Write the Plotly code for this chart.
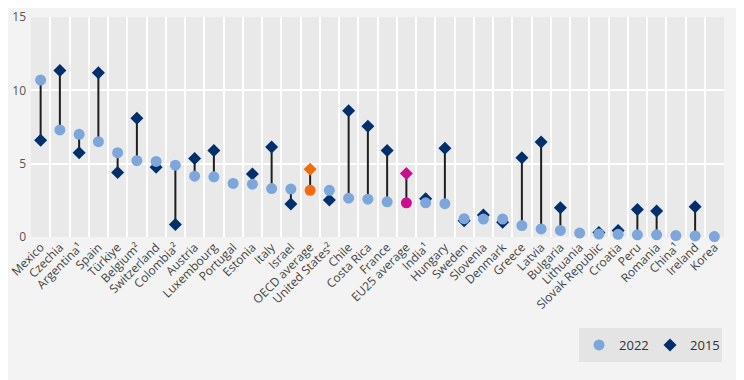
import plotly.graph_objects as go

countries = ["Mexico", "Czechia", "Argentina¹", "Spain", "Türkiye", "Belgium²", "Switzerland",
             "Colombia²", "Austria", "Luxembourg", "Portugal", "Estonia", "Italy", "Israel",
             "OECD average", "United States²", "Chile", "Costa Rica", "France", "EU25 average",
             "India¹", "Hungary", "Sweden", "Slovenia", "Denmark", "Greece", "Latvia", "Bulgaria",
             "Lithuania", "Slovak Republic", "Croatia", "Peru", "Romania", "China¹", "Ireland", "Korea"]

v2022 = [10.7, 7.3, 7.0, 6.5, 5.75, 5.2, 5.15, 4.9, 4.15, 4.1, 3.65, 3.6, 3.3, 3.27,
         3.18, 3.18, 2.65, 2.58, 2.4, 2.33, 2.33, 2.27, 1.25, 1.22, 1.22, 0.78, 0.55, 0.45,
         0.27, 0.2, 0.18, 0.15, 0.15, 0.1, 0.07, 0.03]

v2015 = [6.6, 11.35, 5.75, 11.2, 4.4, 8.1, 4.75, 0.85, 5.35, 5.9, None, 4.3, 6.13, 2.25,
         4.62, 2.53, 8.6, 7.55, 5.9, 4.33, 2.6, 6.05, 1.1, 1.5, 1.0, 5.4, 6.47, 2.0,
         None, 0.3, 0.45, 1.87, 1.78, None, 2.07, None]

highlight = {"OECD average": "#F26B0F", "EU25 average": "#CC0E8E"}

C22 = "#7DA6DA"
C15 = "#002F6C"

lx, ly = [], []
for c, a, b in zip(countries, v2022, v2015):
    if b is None:
        continue
    lx += [c, c, None]
    ly += [a, b, None]

fig = go.Figure()
fig.add_trace(go.Scatter(x=lx, y=ly, mode="lines", line=dict(color="#1e1e1e", width=2),
                         showlegend=False, hoverinfo="skip", cliponaxis=False))

x15 = [c for c, b in zip(countries, v2015) if b is not None and c not in highlight]
y15 = [b for c, b in zip(countries, v2015) if b is not None and c not in highlight]
x22 = [c for c in countries if c not in highlight]
y22 = [a for c, a in zip(countries, v2022) if c not in highlight]

fig.add_trace(go.Scatter(x=x15, y=y15, mode="markers", name="2015",
                         marker=dict(symbol="diamond", size=10, color=C15), cliponaxis=False))
fig.add_trace(go.Scatter(x=x22, y=y22, mode="markers", name="2022",
                         marker=dict(symbol="circle", size=11, color=C22), cliponaxis=False))

for c, col in highlight.items():
    i = countries.index(c)
    fig.add_trace(go.Scatter(x=[c], y=[v2015[i]], mode="markers", showlegend=False,
                             marker=dict(symbol="diamond", size=10, color=col), cliponaxis=False))
    fig.add_trace(go.Scatter(x=[c], y=[v2022[i]], mode="markers", showlegend=False,
                             marker=dict(symbol="circle", size=11, color=col), cliponaxis=False))

fig.update_layout(
    width=744, height=380,
    margin=dict(l=23, r=28, t=9, b=151, autoexpand=False),
    paper_bgcolor="#f3f3f3",
    plot_bgcolor="#e9e9e9",
    font=dict(family="Open Sans", color="#444444", size=11),
    legend=dict(orientation="h", x=0.7908, xanchor="left", y=-0.4909, yanchor="middle",
                bgcolor="rgba(0,0,0,0)", font=dict(size=13, color="#333333"),
                traceorder="reversed", entrywidth=26, entrywidthmode="pixels"),
    shapes=[dict(type="rect", xref="paper", yref="paper", x0=0.7908, x1=0.9971,
                 y0=-0.5682, y1=-0.4136, fillcolor="#e4e4e4", line=dict(width=0), layer="below")],
    xaxis=dict(type="category", categoryorder="array", categoryarray=countries,
               range=[-0.5, len(countries) - 0.5],
               tickson="boundaries", showgrid=True, gridcolor="#ffffff", gridwidth=1.5,
               tickangle=-45, ticklen=0, zeroline=False, showline=False, automargin=False,
               tickfont=dict(size=12, color="#444444")),
    yaxis=dict(range=[0, 15], tickvals=[0, 5, 10, 15], showgrid=True, gridcolor="#ffffff",
               gridwidth=2, zeroline=False, showline=False, ticklen=0, automargin=False,
               ticklabeloverflow="allow",
               tickfont=dict(size=12, color="#555555"), ticklabelstandoff=4),
)

fig.write_html("out.html")
